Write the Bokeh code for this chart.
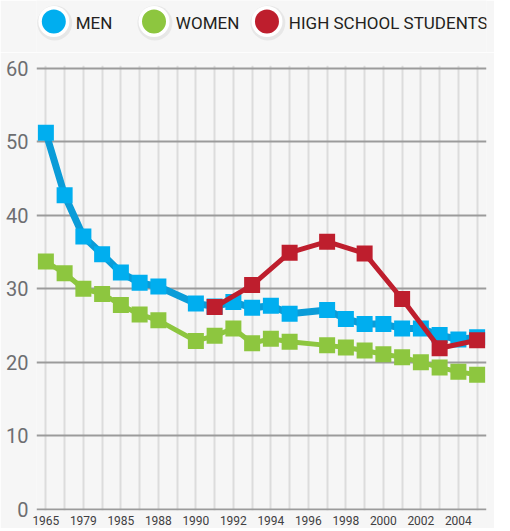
from bokeh.plotting import figure
from bokeh.layouts import column
from bokeh.models import Range1d, FixedTicker
from bokeh.core.properties import value
from bokeh.embed import file_html
from bokeh.resources import INLINE

# ---------------- data ----------------
categories = ["1965", "1974", "1979", "1983", "1985", "1987", "1988", "1989",
              "1990", "1991", "1992", "1993", "1994", "1995", "1996", "1997",
              "1998", "1999", "2000", "2001", "2002", "2003", "2004", "2005"]
tick_labels = ["1965", "1979", "1985", "1988", "1990", "1992", "1994",
               "1996", "1998", "2000", "2002", "2004"]

adult_years = ["1965", "1974", "1979", "1983", "1985", "1987", "1988",
               "1990", "1991", "1992", "1993", "1994", "1995", "1997",
               "1998", "1999", "2000", "2001", "2002", "2003", "2004", "2005"]
men = [51.2, 42.7, 37.1, 34.7, 32.2, 30.8, 30.3,
       28.0, 27.6, 28.2, 27.4, 27.7, 26.6, 27.1,
       25.9, 25.2, 25.2, 24.6, 24.6, 23.7, 23.1, 23.4]
women = [33.7, 32.1, 30.0, 29.3, 27.8, 26.5, 25.7,
         22.9, 23.6, 24.6, 22.6, 23.2, 22.8, 22.3,
         22.0, 21.6, 21.1, 20.7, 20.0, 19.3, 18.7, 18.3]

hs_years = ["1991", "1993", "1995", "1997", "1999", "2001", "2003", "2005"]
high_school = [27.5, 30.5, 34.9, 36.4, 34.8, 28.6, 21.9, 23.0]

y_ticks = [0, 10, 20, 30, 40, 50, 60]

legend_labels = ["MEN", "WOMEN", "HIGH SCHOOL STUDENTS"]
legend_colors = ["#00aeef", "#8dc63f", "#be1e2d"]

# ---------------- style ----------------
BG = "#f6f6f6"
FONT = "Roboto"
W = 494

# position of each category on the (evenly spaced) x axis
pos = {c: i for i, c in enumerate(categories)}
adult_x = [pos[c] for c in adult_years]
hs_x = [pos[c] for c in hs_years]

# ---------------- legend strip ----------------
lf = figure(width=W, height=52, x_range=Range1d(0, W), y_range=Range1d(52, 0),
            x_axis_type=None, y_axis_type=None, output_backend="svg",
            toolbar_location=None, min_border=0,
            background_fill_color=BG, border_fill_color=BG, outline_line_color=None)
lf.grid.visible = False

circle_x = [19, 129, 253]
text_x = [43, 153, 277]
cy = 21
lf.scatter([x + 1 for x in circle_x], [cy + 1.5] * 3, size=35, marker="circle",
           fill_color="#000000", fill_alpha=0.06, line_color=None)
lf.scatter(circle_x, [cy] * 3, size=31, marker="circle",
           fill_color="white", line_color=None)
lf.scatter(circle_x, [cy] * 3, size=24, marker="circle",
           fill_color=legend_colors, line_color=None)
lf.text(text_x, [cy + 1] * 3, text=legend_labels, text_font=value(FONT),
        text_font_size="17px", text_color="#231f20", text_baseline="middle",
        text_align="left")

# ---------------- main chart ----------------
p = figure(width=W, height=476,
           x_range=Range1d(-0.5, len(categories) - 0.5),
           y_range=Range1d(-0.15, 60.35),
           output_backend="svg", toolbar_location=None,
           min_border_left=36, min_border_right=8, min_border_top=13,
           min_border_bottom=18,
           background_fill_color=BG, border_fill_color=BG, outline_line_color=None)

p.xgrid.ticker = FixedTicker(ticks=list(pos.values()))
p.xgrid.grid_line_color = "#dcdcdc"
p.xgrid.grid_line_width = 2
p.ygrid.ticker = FixedTicker(ticks=y_ticks)
p.ygrid.grid_line_color = "#9b9b9b"
p.ygrid.grid_line_width = 2

p.yaxis.ticker = FixedTicker(ticks=y_ticks)
p.yaxis.axis_line_color = None
p.yaxis.major_tick_line_color = None
p.yaxis.major_tick_out = 0
p.yaxis.major_tick_in = 0
p.yaxis.minor_tick_line_color = None
p.yaxis.major_label_text_font = FONT
p.yaxis.major_label_text_font_size = "20px"
p.yaxis.major_label_text_color = "#6d6e71"
p.yaxis.major_label_standoff = 8

p.xaxis.ticker = FixedTicker(ticks=[pos[c] for c in tick_labels])
p.xaxis.major_label_overrides = {pos[c]: c for c in tick_labels}
p.xaxis.axis_line_color = None
p.xaxis.major_tick_line_color = None
p.xaxis.major_tick_out = 0
p.xaxis.major_tick_in = 0
p.xaxis.minor_tick_line_color = None
p.xaxis.major_label_text_font = FONT
p.xaxis.major_label_text_font_size = "12px"
p.xaxis.major_label_text_color = "#414042"
p.xaxis.major_label_standoff = 5

# women
p.line(adult_x, women, line_width=5, line_color="#8dc63f", line_join="round")
p.scatter(adult_x, women, marker="square", size=16, fill_color="#8dc63f", line_color=None)
# men
p.line(adult_x, men, line_width=7, line_color="#0a9cd8", line_join="round")
p.scatter(adult_x, men, marker="square", size=16, fill_color="#00aeef", line_color=None)
# high school students
p.line(hs_x, high_school, line_width=5, line_color="#be1e2d", line_join="round")
p.scatter(hs_x, high_school, marker="square", size=16, fill_color="#be1e2d", line_color=None)

layout = column(lf, p, spacing=0)
open("out.html", "w").write(file_html(layout, INLINE))
